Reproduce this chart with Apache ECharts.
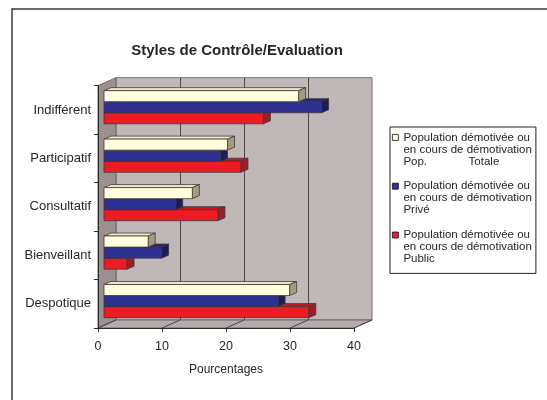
<!DOCTYPE html>
<html>
<head>
<meta charset="utf-8">
<style>
  html, body { margin: 0; padding: 0; background: #fff; }
  #chart { width: 547px; height: 400px; }
</style>
<script src="https://cdn.jsdelivr.net/npm/echarts@6/dist/echarts.min.js"></script>
</head>
<body>
<div id="chart"></div>
<script>
// Control / evaluation styles, share of demotivated staff (%)
const categories = ['Indifférent', 'Participatif', 'Consultatif', 'Bienveillant', 'Despotique'];
const popTotale = [30.4, 19.3, 13.8, 6.9, 29.0];
const popPrive = [34.0, 18.2, 11.2, 9.0, 27.2];
const popPublic = [24.9, 21.4, 17.8, 3.6, 32.0];
const xTicks = [0, 10, 20, 30, 40];
const seriesNames = [
  'Population démotivée ou\nen cours de démotivation\nPop.             Totale',
  'Population démotivée ou\nen cours de démotivation\nPrivé',
  'Population démotivée ou\nen cours de démotivation\nPublic'
];

const FONT = '"Liberation Sans", Arial, sans-serif';
const INK = '#262626';

// Front plane of the plot (where the axes sit) and the 3D depth of the box
const FRONT = { left: 98, top: 85.7, right: 193, bottom: 72 };
const DEPTH = { dx: 18, dy: -8 };      // back wall offset
const BAR_DEPTH = { dx: 6, dy: -2.7 }; // front face of the bars
const BAR_SIDE = { dx: 7, dy: -3 };    // thickness of each bar
const BAR_RATIO = 0.228;               // bar height as share of a category band

function shifted(off) {
  return {
    left: FRONT.left + off.dx,
    top: FRONT.top + off.dy,
    right: FRONT.right - off.dx,
    bottom: FRONT.bottom - off.dy
  };
}

const faces = [
  { front: '#FFFFDE', top: '#EFEBC8', side: '#A8997F' },
  { front: '#2E3192', top: '#252878', side: '#1B1D5A' },
  { front: '#ED1C24', top: '#C8161D', side: '#9B1F27' }
];

function barRenderer(k) {
  return function (params, api) {
    const val = api.value(0);
    const cat = api.value(1);
    const p0 = api.coord([0, cat]);
    const p1 = api.coord([val, cat]);
    const band = api.size([0, 1])[1];
    const h = band * BAR_RATIO;
    const y0 = p0[1] - 1.5 * h + k * h;
    const y1 = y0 + h;
    const x0 = p0[0], x1 = p1[0];
    const dx = BAR_SIDE.dx, dy = BAR_SIDE.dy;
    const f = faces[k];
    const edge = { stroke: '#3c3838', lineWidth: 0.8, lineJoin: 'round' };
    return {
      type: 'group',
      children: [
        { type: 'polygon', shape: { points: [[x0, y0], [x0 + dx, y0 + dy], [x1 + dx, y0 + dy], [x1, y0]] },
          style: Object.assign({ fill: f.top }, edge) },
        { type: 'polygon', shape: { points: [[x1, y0], [x1 + dx, y0 + dy], [x1 + dx, y1 + dy], [x1, y1]] },
          style: Object.assign({ fill: f.side }, edge) },
        { type: 'rect', shape: { x: x0, y: y0, width: x1 - x0, height: h },
          style: Object.assign({ fill: f.front }, edge) }
      ]
    };
  };
}

// Left wall, floor and the floor grid lines of the 3D box
function wallRenderer(params, api) {
  const cs = params.coordSys;
  const L = cs.x, T = cs.y, R = cs.x + cs.width, B = cs.y + cs.height;
  const dx = DEPTH.dx, dy = DEPTH.dy;
  const children = [
    { type: 'polygon', shape: { points: [[L, T], [L + dx, T + dy], [L + dx, B + dy], [L, B]] },
      style: { fill: '#9B8F8F', stroke: '#6e6464', lineWidth: 1 } },
    { type: 'polygon', shape: { points: [[L, B], [L + dx, B + dy], [R + dx, B + dy], [R, B]] },
      style: { fill: '#B5ABAB', stroke: '#6e6464', lineWidth: 1 } }
  ];
  xTicks.forEach(function (v) {
    const x = api.coord([v, 0])[0];
    children.push({ type: 'line', shape: { x1: x, y1: B, x2: x + dx, y2: B + dy },
      style: { stroke: '#4a4444', lineWidth: 1 } });
  });
  return { type: 'group', children: children };
}

const hiddenCat = {
  type: 'category', data: categories, inverse: true, show: false
};
const hiddenVal = {
  type: 'value', min: 0, max: 40, interval: 10, show: false
};

const chart = echarts.init(document.getElementById('chart'), null, { renderer: 'canvas' });

chart.setOption({
  animation: false,
  backgroundColor: '#ffffff',
  textStyle: { fontFamily: FONT },
  title: {
    text: 'Styles de Contrôle/Evaluation',
    left: 232,
    top: 38,
    textAlign: 'center',
    textStyle: { fontFamily: FONT, fontSize: 15, fontWeight: 'bold', color: INK }
  },
  graphic: [
    { type: 'rect', z: -10, shape: { x: 12, y: 9, width: 600, height: 500 },
      style: { fill: 'none', stroke: '#3a3a3a', lineWidth: 1.5 } }
  ],
  legend: {
    data: seriesNames,
    orient: 'vertical',
    left: 390,
    top: 127,
    padding: [4, 4, 8, 2],
    itemGap: 12,
    itemWidth: 6,
    itemHeight: 36,
    icon: 'path://M0,0M0,3h6v6h-6zM0,36',
    borderColor: '#222',
    borderWidth: 1,
    itemStyle: { borderColor: '#111', borderWidth: 0.8 },
    textStyle: { fontFamily: FONT, fontSize: 11.5, lineHeight: 12, color: INK },
    selectedMode: false
  },
  grid: [
    Object.assign({}, FRONT),
    Object.assign({ show: true, backgroundColor: '#C0B8B8', borderColor: '#7a7070', borderWidth: 1 }, shifted(DEPTH)),
    Object.assign({}, shifted(BAR_DEPTH))
  ],
  xAxis: [
    {
      gridIndex: 0, type: 'value', min: 0, max: 40, interval: 10, z: 10,
      name: 'Pourcentages', nameLocation: 'middle', nameGap: 36,
      nameTextStyle: { fontFamily: FONT, fontSize: 12, color: INK },
      axisLine: { show: true, lineStyle: { color: '#2a2a2a', width: 1 } },
      axisTick: { show: true, length: 4, lineStyle: { color: '#2a2a2a' } },
      axisLabel: { margin: 12, fontFamily: FONT, fontSize: 12.5, color: INK,
        formatter: function (v) { return xTicks.indexOf(v) >= 0 ? String(v) : ''; } },
      splitLine: { show: false }
    },
    {
      gridIndex: 1, type: 'value', min: 0, max: 40, interval: 10,
      axisLine: { show: false }, axisTick: { show: false }, axisLabel: { show: false },
      splitLine: { show: true, showMinLine: false, showMaxLine: false, lineStyle: { color: '#4e4848', width: 1 } }
    },
    Object.assign({ gridIndex: 2 }, hiddenVal)
  ],
  yAxis: [
    {
      gridIndex: 0, type: 'category', data: categories, inverse: true, z: 10,
      axisLine: { show: true, lineStyle: { color: '#2a2a2a', width: 1 } },
      axisTick: { show: true, length: 4, lineStyle: { color: '#2a2a2a' } },
      axisLabel: { margin: 7, fontFamily: FONT, fontSize: 13, color: INK, padding: [4, 0, 0, 0] }
    },
    Object.assign({ gridIndex: 1 }, hiddenCat),
    Object.assign({ gridIndex: 2 }, hiddenCat)
  ],
  series: [
    {
      type: 'custom', name: 'walls', xAxisIndex: 0, yAxisIndex: 0, z: 1, clip: false,
      silent: true, renderItem: wallRenderer, data: [[0, 0]]
    },
    {
      type: 'custom', name: seriesNames[0], xAxisIndex: 2, yAxisIndex: 2, z: 6, clip: false,
      itemStyle: { color: faces[0].front }, renderItem: barRenderer(0),
      encode: { x: 0, y: 1 }, data: popTotale.map(function (v, i) { return [v, i]; })
    },
    {
      type: 'custom', name: seriesNames[1], xAxisIndex: 2, yAxisIndex: 2, z: 5, clip: false,
      itemStyle: { color: faces[1].front }, renderItem: barRenderer(1),
      encode: { x: 0, y: 1 }, data: popPrive.map(function (v, i) { return [v, i]; })
    },
    {
      type: 'custom', name: seriesNames[2], xAxisIndex: 2, yAxisIndex: 2, z: 4, clip: false,
      itemStyle: { color: faces[2].front }, renderItem: barRenderer(2),
      encode: { x: 0, y: 1 }, data: popPublic.map(function (v, i) { return [v, i]; })
    }
  ]
});
</script>
</body>
</html>
